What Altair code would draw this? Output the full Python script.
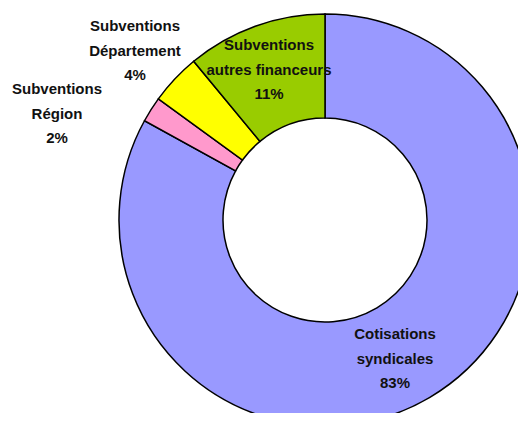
import altair as alt
import pandas as pd

categories = ["Cotisations syndicales", "Subventions Région",
              "Subventions Département", "Subventions autres financeurs"]
shares = [83, 2, 4, 11]
colors = ["#9999FF", "#FF99CC", "#FFFF00", "#99CC00"]
label_texts = ["Cotisations\nsyndicales\n83%", "Subventions\nRégion\n2%",
               "Subventions\nDépartement\n4%", "Subventions\nautres financeurs\n11%"]
# label anchor positions (centre of the first line), in pixels
label_x = [387, 49, 127, 261]
label_y = [326, 81, 18, 37]

df = pd.DataFrame({"cat": categories, "share": shares, "idx": list(range(len(categories)))})
lab = pd.DataFrame({"txt": label_texts, "lx": label_x, "ly": label_y})

W, H = 510, 405
CX, CY = 317, 212

arc = alt.Chart(df).mark_arc(
    innerRadius=102, outerRadius=206, stroke="black", strokeWidth=1.5
).encode(
    theta=alt.Theta("share:Q", stack=True),
    order=alt.Order("idx:Q"),
    color=alt.Color("cat:N", scale=alt.Scale(domain=categories, range=colors), legend=None),
    x=alt.value(CX),
    y=alt.value(CY),
)

labels = alt.Chart(lab).mark_text(
    font="Liberation Sans", fontSize=15, fontWeight="bold", color="#111111",
    align="center", baseline="middle", lineBreak="\n", lineHeight=24.5
).encode(
    text="txt:N",
    x=alt.X("lx:Q", scale=None),
    y=alt.Y("ly:Q", scale=None),
)

chart = alt.layer(arc, labels).properties(
    width=W, height=H, autosize=alt.AutoSizeParams(type="none"), padding=0
).configure_view(stroke=None)

chart.save("out.html", embed_options={"renderer": "svg", "actions": False})
